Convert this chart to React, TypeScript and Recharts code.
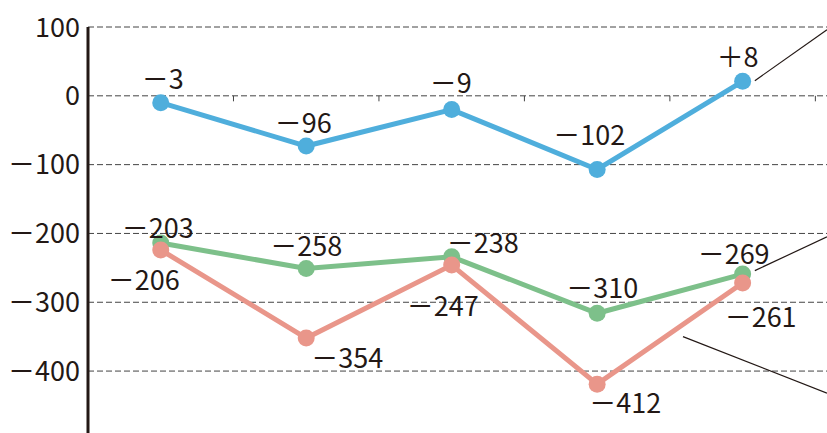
import { LineChart, Line, XAxis, YAxis, CartesianGrid, LabelList, ReferenceLine } from "recharts";

// five periods, values
const categories = ["1", "2", "3", "4", "5"];
const blueValues = [-10, -73, -20, -107, 21];
const greenValues = [-214, -251, -234, -316, -259];
const redValues = [-224, -352, -246, -419, -272];

// printed labels (these are what the chart shows next to each point)
const blueLabels = ["－3", "－96", "－9", "－102", "＋8"];
const greenLabels = ["－203", "－258", "－238", "－310", "－269"];
const redLabels = ["－206", "－354", "－247", "－412", "－261"];

const yTicks = [100, 0, -100, -200, -300, -400];

// label offsets from each dot (px)
const blueOffsets = [[2, -25], [-3, -25], [-1, -28], [-8, -36], [-5, -26]];
const greenOffsets = [[-3, -17], [0, -24], [31, -15], [5, -27], [-9, -22]];
const redOffsets = [[-17, 29], [41, 18], [-9, 39], [28, 17], [18, 33]];

const data = categories.map((c, i) => ({
  name: c,
  x: i + 0.5,
  blue: blueValues[i],
  green: greenValues[i],
  red: redValues[i],
}));

const INK = "#231815";
const FONT = "'Noto Sans CJK JP', 'Noto Sans', sans-serif";

const makeLabel = (labels: string[], offsets: number[][]) => (props: any) => {
  const { x, y, index } = props;
  const [dx, dy] = offsets[index];
  return (
    <text
      x={x + dx}
      y={y + dy}
      textAnchor="middle"
      dominantBaseline="central"
      fontSize={27}
      fontFamily={FONT}
      fill={INK}
    >
      {labels[index]}
    </text>
  );
};

const formatTick = (v: number) => (v < 0 ? `－${Math.abs(v)}` : `${v}`);

export default function App() {
  return (
    <div style={{ position: "absolute", left: 0, top: 0 }}>
      <LineChart
        width={827}
        height={433}
        data={data}
        margin={{ top: 27, right: 0, left: 0, bottom: 0 }}
      >
        <CartesianGrid
          vertical={false}
          stroke="#444"
          strokeDasharray="6 3"
          horizontalValues={yTicks}
        />
        <XAxis dataKey="x" type="number" domain={[0, 5.08]} hide />
        <YAxis
          domain={[-490, 100]}
          ticks={yTicks}
          interval={0}
          width={88}
          tickLine={false}
          axisLine={{ stroke: INK, strokeWidth: 3 }}
          tickFormatter={formatTick}
          tick={{ fill: INK, fontSize: 27, fontFamily: FONT }}
        />
        {[1, 2, 3, 4, 5].map((t) => (
          <ReferenceLine
            key={t}
            segment={[{ x: t, y: 0 }, { x: t, y: -8 }]}
            stroke="#444"
            strokeWidth={1}
            ifOverflow="visible"
          />
        ))}
        {/* leader lines towards the legend outside the frame */}
        <ReferenceLine segment={[{ x: 4.584, y: 22 }, { x: 5.08, y: 96 }]} stroke={INK} strokeWidth={1.2} ifOverflow="visible" />
        <ReferenceLine segment={[{ x: 4.584, y: -254 }, { x: 5.08, y: -205 }]} stroke={INK} strokeWidth={1.2} ifOverflow="visible" />
        <ReferenceLine segment={[{ x: 4.09, y: -350 }, { x: 5.08, y: -432 }]} stroke={INK} strokeWidth={1.2} ifOverflow="visible" />
        <Line
          dataKey="blue"
          stroke="#4FAEDC"
          strokeWidth={5}
          dot={{ r: 8.5, fill: "#4FAEDC", stroke: "none" }}
          isAnimationActive={false}
        >
          <LabelList content={makeLabel(blueLabels, blueOffsets)} />
        </Line>
        <Line
          dataKey="green"
          stroke="#7DC08A"
          strokeWidth={5}
          dot={{ r: 8.5, fill: "#7DC08A", stroke: "none" }}
          isAnimationActive={false}
        >
          <LabelList content={makeLabel(greenLabels, greenOffsets)} />
        </Line>
        <Line
          dataKey="red"
          stroke="#E9968A"
          strokeWidth={5}
          dot={{ r: 8.5, fill: "#E9968A", stroke: "none" }}
          isAnimationActive={false}
        >
          <LabelList content={makeLabel(redLabels, redOffsets)} />
        </Line>
      </LineChart>
    </div>
  );
}
